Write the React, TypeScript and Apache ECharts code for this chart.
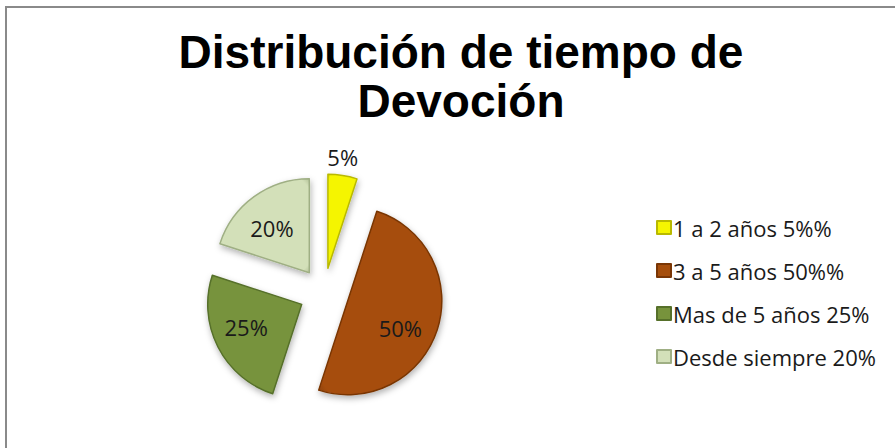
import React, { useEffect, useRef } from "react";
import * as echarts from "echarts";

const titleText = "Distribución de tiempo de\nDevoción";
const categories = ["1 a 2 años 5%%", "3 a 5 años 50%%", "Mas de 5 años 25%", "Desde siempre 20%"];
const values = [5, 50, 25, 20];
const colors = ["#F5F500", "#A64E0C", "#77933C", "#D3E0B9"];
const borders = ["#B9B900", "#7A3605", "#56702A", "#9FAF84"];

export default function App() {
  const ref = useRef<HTMLDivElement>(null);
  useEffect(() => {
    if (!ref.current) return;
    const chart = echarts.init(ref.current, null, { renderer: "svg" });
    const sliceStyle = (i: number) => ({
      color: {
        type: "radial",
        x: 0.5,
        y: 0.5,
        r: 0.75,
        colorStops: [
          { offset: 0, color: colors[i] },
          { offset: 0.85, color: colors[i] },
          { offset: 1, color: borders[i] },
        ],
      },
      borderColor: borders[i],
      borderWidth: 1.5,
      shadowBlur: 6,
      shadowOffsetY: 3,
      shadowOffsetX: 1,
      shadowColor: "rgba(0,0,0,0.3)",
    });
    chart.setOption({
      animation: false,
      backgroundColor: "#ffffff",
      title: {
        text: titleText,
        left: 456,
        top: 22,
        textAlign: "center",
        textStyle: {
          fontFamily: "Liberation Sans, Arial, sans-serif",
          fontWeight: "bold",
          fontSize: 46,
          lineHeight: 49,
          color: "#000000",
        },
      },
      legend: {
        orient: "vertical",
        left: 651,
        top: 211,
        itemWidth: 14,
        itemHeight: 13,
        itemGap: 20,
        icon: "rect",
        selectedMode: false,
        textStyle: {
          fontFamily: "Open Sans, sans-serif",
          fontSize: 22,
          lineHeight: 23,
          color: "#1a1a1a",
          padding: [0, 0, 0, -3],
        },
        data: categories,
      },
      graphic: [
        {
          type: "rect",
          shape: { x: 6, y: 7, width: 1000, height: 1000 },
          style: { fill: "none", stroke: "#8a8a8a", lineWidth: 2 },
          silent: true,
        },
      ],
      series: [
        {
          type: "pie",
          center: [324, 293],
          radius: [0, 94],
          startAngle: 90,
          clockwise: true,
          selectedMode: "multiple",
          selectedOffset: 25,
          avoidLabelOverlap: false,
          label: {
            show: true,
            position: "inside",
            formatter: "{c}%",
            fontFamily: "Open Sans, sans-serif",
            fontSize: 22,
            color: "#1a1a1a",
          },
          labelLine: { show: false },
          labelLayout: (p: any) => {
            if (p.dataIndex === 0) return { dx: 7, dy: -62 };
            if (p.dataIndex === 1) return { dx: 5, dy: 12 };
            if (p.dataIndex === 2) return { dx: -11, dy: 0 };
            return { dx: -8, dy: -4 };
          },
          emphasis: { disabled: true },
          select: {
            label: { color: "#1a1a1a" },
          },
          data: categories.map((name, i) => ({
            name,
            value: values[i],
            selected: true,
            itemStyle: sliceStyle(i),
            select: { itemStyle: sliceStyle(i) },
          })),
        },
      ],
    });
    return () => chart.dispose();
  }, []);
  return (
    <div
      ref={ref}
      style={{ position: "fixed", left: 0, top: 0, width: 895, height: 448 }}
    />
  );
}
